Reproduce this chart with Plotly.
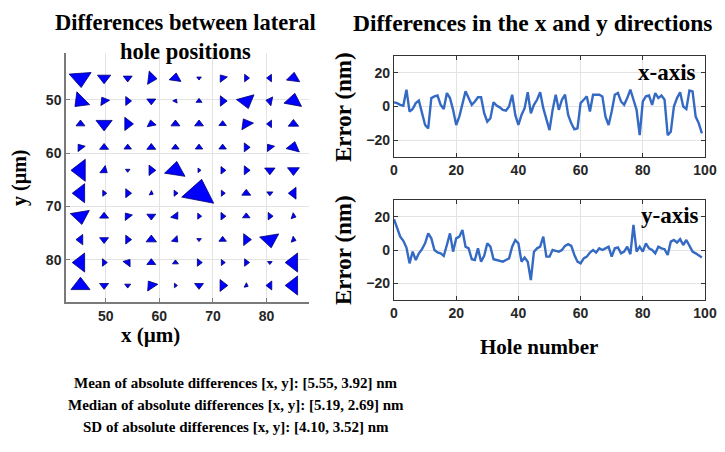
import math
import plotly.graph_objects as go

# ---- data ----
# hole grid (um); rows top->bottom, cols left->right
hole_x = [45.3, 49.7, 54.1, 58.5, 63.0, 67.4, 71.8, 76.2, 80.6, 85.0]
hole_y = [45.9, 50.2, 54.5, 58.9, 63.2, 67.5, 71.8, 76.2, 80.5, 84.8]

# lateral differences per hole (arbitrary nm-ish units), dy positive = larger y (downwards)
err_dx = [
    [1, 0, 0, 8, 1, 0, -3, 4, -4, 1],
    [-8, -3, 5, 0, 1, 0, 6, 3, -5, 2],
    [0, 0, 8, -1, 0, 0, 0, -4, -4, 0],
    [-3, 0, 0, 0, 0, 0, 0, 5, -3, 2],
    [-14, 4, 0, 6, 2, 2, 4, 5, 0, 0],
    [-12, 3, 5, 2, 3, 4, 3, 0, 0, -7],
    [2, 0, -3, 0, 3, 3, 4, 0, 4, 3],
    [-6, 0, 5, 0, 3, 0, 0, 7, 2, 3],
    [-12, 4, 3, 0, 0, 4, 3, 4, 0, -12],
    [0, 0, 0, -4, 2, 0, 7, 2, -5, -12],
]
err_dy = [
    [14, 8, 5, 1, -7, 2, -4, 0, 0, -8],
    [8, -5, 0, 5, -2, -3, 0, 11, -1, -11],
    [-5, 10, 0, -5, -5, -5, -4, -7, 0, -6],
    [-4, -5, -4, -5, -4, -4, -4, 0, -4, -8],
    [0, 3, 2, 0, -13, 0, 0, 0, 6, 7],
    [0, 0, 0, 1, 0, -21, 0, -5, 3, 0],
    [12, -5, -4, 5, 4, 0, 0, -4, 0, 1],
    [0, 5, 0, -6, 3, 2, -4, 0, 12, 1],
    [0, 0, -4, -5, -3, 0, 0, 0, 2, 0],
    [-12, 5, 3, -6, 0, 5, 0, 1, 0, 0],
]

hole_number = list(range(100))
x_error = [2.5, 2, 1, 0.5, 10, -3, -1.5, 2, 3.5, -4,
           -11, -13, 5, 6, 6.5, 1, -1.5, 8, 5, -2,
           -11, -6, 1, 9, 5, 1, 3, 5.5, 5.5, -4,
           -9, -7, 2.5, 0.5, -0.5, -2, -2.5, 0, 7, -5,
           -11, -5, -1, 8.5, -4, 1, 4, 8.5, -1, -8,
           -14, -2, 7, -2, 4, 7, -5, -10, -13.5, -13,
           2, 4, 6, -3, 7, 7, 7, 6, -6, -11,
           -3, 7, 8, 3, 1, 5, 10, 4, -2, -17,
           3, 6, 6.5, 1, 8, 5, 6.5, 4, -17, -15,
           0, 5, 8.5, 0, -1.5, 9.5, 9, -6, -10, -16]
y_error = [18.5, 13, 8, 5.5, 1.5, -8, -1, -6, -2, 0.5,
           4, 10, 7, 0, -1.5, -2, -3.5, 3, 10, -1,
           7, 8, 12, 2, 1, -5.5, -6, 1, -7, -3.5,
           4, 2, -5.5, -6, -6.5, -7, -6, -5, 2, 6,
           4, -7, -4.5, -7, -18, -1, 1, 2, 8, -4,
           -4, 0, -0.5, -1, 0, 2.5, 3.5, 2.5, -3, -7,
           -8, -5, -4, -1.5, 0, -1.5, 1, 0, 1, 2,
           -4, 1, 1.5, -2, -1, 2, -2.5, 15, -1, 2,
           -1, 4, 1, 0, -2, 2, 1, 0.5, -3, 5,
           6, 4.5, 6.5, 3, 6, 2, -1, -2, -3, -4.5]

stats_lines = [
    "Mean of absolute differences [x, y]: [5.55, 3.92] nm",
    "Median of absolute differences [x, y]: [5.19, 2.69] nm",
    "SD of absolute differences [x, y]: [4.10, 3.52] nm",
]

# the page has an 8px body margin: keep the figure inside the 725x452 window
OFF = 8
W, H = 725 - 2 * OFF, 452 - 2 * OFF
def px(x): return (x - OFF) / W
def py(y): return 1 - (y - OFF) / H

# ---- quiver-like triangles ----
qx, qy, ang, sz = [], [], [], []
for r in range(10):
    for c in range(10):
        dx, dy = err_dx[r][c], err_dy[r][c]
        mag = math.hypot(dx, dy)
        qx.append(hole_x[c])
        qy.append(hole_y[r])
        ang.append(math.degrees(math.atan2(dx, -dy)))
        sz.append(1.25 * mag + 1.5)

fig = go.Figure()
fig.add_trace(go.Scatter(
    x=qx, y=qy, mode='markers',
    marker=dict(symbol='triangle-up', size=sz, angle=ang, color='rgb(0,0,255)',
                opacity=1, line=dict(width=0.8, color='rgb(0,0,110)')),
    xaxis='x', yaxis='y', showlegend=False, hoverinfo='skip'))

line_col = 'rgb(52,106,196)'
fig.add_trace(go.Scatter(x=hole_number, y=x_error, mode='lines',
                         line=dict(color=line_col, width=2.4),
                         xaxis='x2', yaxis='y2', showlegend=False))
fig.add_trace(go.Scatter(x=hole_number, y=y_error, mode='lines',
                         line=dict(color=line_col, width=2.4),
                         xaxis='x3', yaxis='y3', showlegend=False))

tickfont = dict(family='Liberation Sans', size=14, color='#262626', weight='bold')
grid = '#e3e3e3'

left_ax = dict(showgrid=True, gridcolor=grid, zeroline=False, showline=True,
               linecolor='#7a7a7a', linewidth=1.5, ticks='inside', ticklen=4,
               tickcolor='#7a7a7a', tickfont=tickfont, mirror=False, automargin=False)
box_ax = dict(showgrid=True, gridcolor=grid, zeroline=False, showline=True,
              linecolor='#333333', linewidth=1.2, ticks='inside', ticklen=4,
              tickcolor='#333333', tickfont=tickfont, mirror='ticks', automargin=False,
              ticklabeloverflow='allow')

fig.update_layout(
    width=W, height=H,
    margin=dict(l=0, r=0, t=0, b=0),
    plot_bgcolor='white', paper_bgcolor='white',
    xaxis=dict(left_ax, domain=[px(66), px(309)], range=[42.6, 87.9],
               tickvals=[50, 60, 70, 80], anchor='y'),
    yaxis=dict(left_ax, domain=[py(302), py(53)], range=[87.9, 41.2],
               tickvals=[50, 60, 70, 80], anchor='x'),
    xaxis2=dict(box_ax, domain=[px(394), px(705)], range=[0, 100],
                tickvals=[0, 20, 40, 60, 80, 100], anchor='y2'),
    yaxis2=dict(box_ax, domain=[py(157), py(56)], range=[-30, 30],
                tickvals=[-20, 0, 20], anchor='x2'),
    xaxis3=dict(box_ax, domain=[px(394), px(705)], range=[0, 100],
                tickvals=[0, 20, 40, 60, 80, 100], anchor='y3'),
    yaxis3=dict(box_ax, domain=[py(300), py(200)], range=[-30, 30],
                tickvals=[-20, 0, 20], anchor='x3'),
)

serif = 'Liberation Serif'
def label(text, x, y, size, angle=0, yanchor='middle'):
    fig.add_annotation(text=text, x=px(x), y=py(y), xref='paper', yref='paper',
                       showarrow=False, textangle=angle, xanchor='center', yanchor=yanchor,
                       font=dict(family=serif, size=size, color='black', weight='bold'))

label('Differences between lateral<br>hole positions', 185, 8, 22.5, yanchor='top')
label('Differences in the x and y directions', 532, 8, 23.5, yanchor='top')
label('y (µm)', 19, 178, 20, -90)
label('x (µm)', 150, 335, 21)
label('Error (nm)', 343, 107, 23, -90)
label('Error (nm)', 343, 250, 23, -90)
label('Hole number', 539, 347, 21)
label('x-axis', 667, 72, 23)
label('y-axis', 670, 215, 23)
for i, t in enumerate(stats_lines):
    label(t, 236, 383 + i * 22, 15)

fig.write_html("out.html")
